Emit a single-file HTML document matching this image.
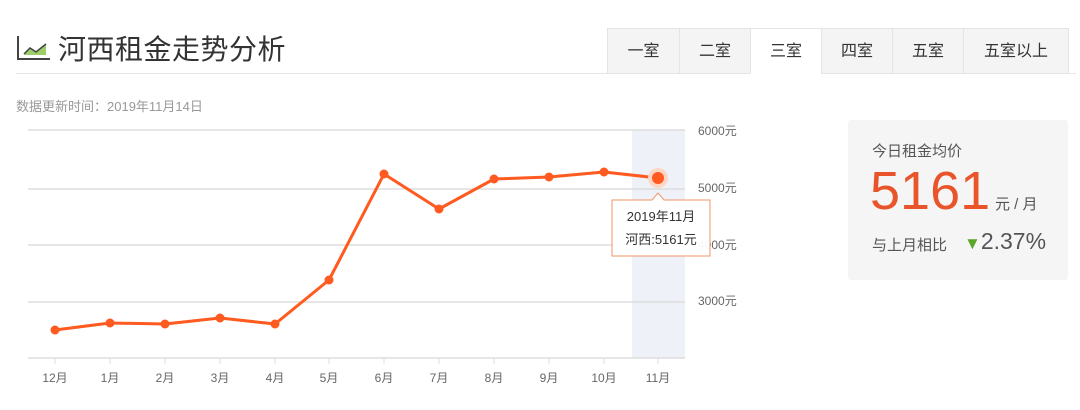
<!DOCTYPE html>
<html><head><meta charset="utf-8"><style>
body{margin:0;width:1080px;height:410px;background:#fff;overflow:hidden;font-family:"Liberation Sans","Noto Sans CJK SC",sans-serif;position:relative}
.abs{position:absolute}
.tab{position:absolute;top:28px;height:46px;line-height:46px;text-align:center;font-size:16px;color:#333;background:#f4f4f4;border:1px solid #e4e4e4;box-sizing:border-box}
</style></head><body>
<svg class="abs" style="left:16px;top:34px" width="36" height="28"><polyline points="2,2 2,25 34,25" fill="none" stroke="#444" stroke-width="2"/><polygon points="8,21 14,14 20,18 30,10 30,21" fill="#9ccf6a"/><polyline points="8,20 14,14 20,18 30,10" fill="none" stroke="#444" stroke-width="1.5"/></svg>
<div class="abs" style="left:58px;top:28px;font-size:28px;color:#333;letter-spacing:0.5px">河西租金走势分析</div>
<div class="abs" style="left:16px;top:73px;width:1060px;height:1px;background:#e6e6e6"></div>
<div class="tab" style="left:607px;width:73px">一室</div>
<div class="tab" style="left:679px;width:72px">二室</div>
<div class="tab" style="left:750px;width:72px;background:#fff;border-bottom-color:#fff">三室</div>
<div class="tab" style="left:821px;width:72px">四室</div>
<div class="tab" style="left:892px;width:72px">五室</div>
<div class="tab" style="left:963px;width:106px">五室以上</div>
<div class="abs" style="left:16px;top:96px;font-size:13px;color:#999">数据更新时间：2019年11月14日</div>
<svg class="abs" style="left:0;top:0" width="1080" height="410">
<rect x="632" y="130" width="53" height="228" fill="#eef2f8"/>
<g stroke="#ddd" stroke-width="1.5"><line x1="28" x2="685" y1="130" y2="130"/><line x1="28" x2="685" y1="189" y2="189"/><line x1="28" x2="685" y1="245" y2="245"/><line x1="28" x2="685" y1="302" y2="302"/><line x1="28" x2="685" y1="358" y2="358"/></g>
<g stroke="#ddd" stroke-width="1"><line x1="55" x2="55" y1="358" y2="364"/><line x1="110" x2="110" y1="358" y2="364"/><line x1="165" x2="165" y1="358" y2="364"/><line x1="220" x2="220" y1="358" y2="364"/><line x1="275" x2="275" y1="358" y2="364"/><line x1="329" x2="329" y1="358" y2="364"/><line x1="384" x2="384" y1="358" y2="364"/><line x1="439" x2="439" y1="358" y2="364"/><line x1="494" x2="494" y1="358" y2="364"/><line x1="549" x2="549" y1="358" y2="364"/><line x1="604" x2="604" y1="358" y2="364"/><line x1="658" x2="658" y1="358" y2="364"/></g>
<g font-size="12" fill="#666" text-anchor="middle" font-family="Liberation Sans,Noto Sans CJK SC,sans-serif"><text x="55" y="382">12月</text><text x="110" y="382">1月</text><text x="165" y="382">2月</text><text x="220" y="382">3月</text><text x="275" y="382">4月</text><text x="329" y="382">5月</text><text x="384" y="382">6月</text><text x="439" y="382">7月</text><text x="494" y="382">8月</text><text x="549" y="382">9月</text><text x="604" y="382">10月</text><text x="658" y="382">11月</text></g>
<g font-size="12" fill="#666" font-family="Liberation Sans,Noto Sans CJK SC,sans-serif"><text x="698" y="135">6000元</text><text x="698" y="192">5000元</text><text x="698" y="249">4000元</text><text x="698" y="305">3000元</text></g>
<polyline points="55,330 110,323 165,324 220,318 275,324 329,280 384,174 439,209 494,179 549,177 604,172 658,178" fill="none" stroke="#ff5a1f" stroke-width="3" stroke-linejoin="round"/>
<g fill="#ff5a1f"><circle cx="55" cy="330" r="4.5"/><circle cx="110" cy="323" r="4.5"/><circle cx="165" cy="324" r="4.5"/><circle cx="220" cy="318" r="4.5"/><circle cx="275" cy="324" r="4.5"/><circle cx="329" cy="280" r="4.5"/><circle cx="384" cy="174" r="4.5"/><circle cx="439" cy="209" r="4.5"/><circle cx="494" cy="179" r="4.5"/><circle cx="549" cy="177" r="4.5"/><circle cx="604" cy="172" r="4.5"/><circle cx="658" cy="178" r="10" fill="#ffd6c4"/><circle cx="658" cy="178" r="6"/></g>
<path d="M612,200 H652 L658,193 L664,200 H710 V256 H612 Z" fill="#fff" fill-opacity="0.95" stroke="#f39466" stroke-width="1"/>
<g font-size="13" fill="#333" text-anchor="middle" font-family="Liberation Sans,Noto Sans CJK SC,sans-serif"><text x="661" y="221">2019年11月</text><text x="661" y="244">河西:5161元</text></g>
</svg>
<div class="abs" style="left:848px;top:120px;width:220px;height:160px;background:#f5f5f5;border-radius:3px"></div>
<div class="abs" style="left:872px;top:140px;font-size:15px;color:#555">今日租金均价</div>
<div class="abs" style="left:870px;top:158px;font-size:54px;color:#e9542a;line-height:66px">5161</div>
<div class="abs" style="left:995px;top:193px;font-size:15px;color:#555">元 / 月</div>
<div class="abs" style="left:872px;top:234px;font-size:15px;color:#555">与上月相比</div>
<div class="abs" style="left:964px;top:228px;font-size:23px;color:#555"><span style="color:#5aa52a;font-size:17px">▼</span>2.37%</div>
</body></html>
